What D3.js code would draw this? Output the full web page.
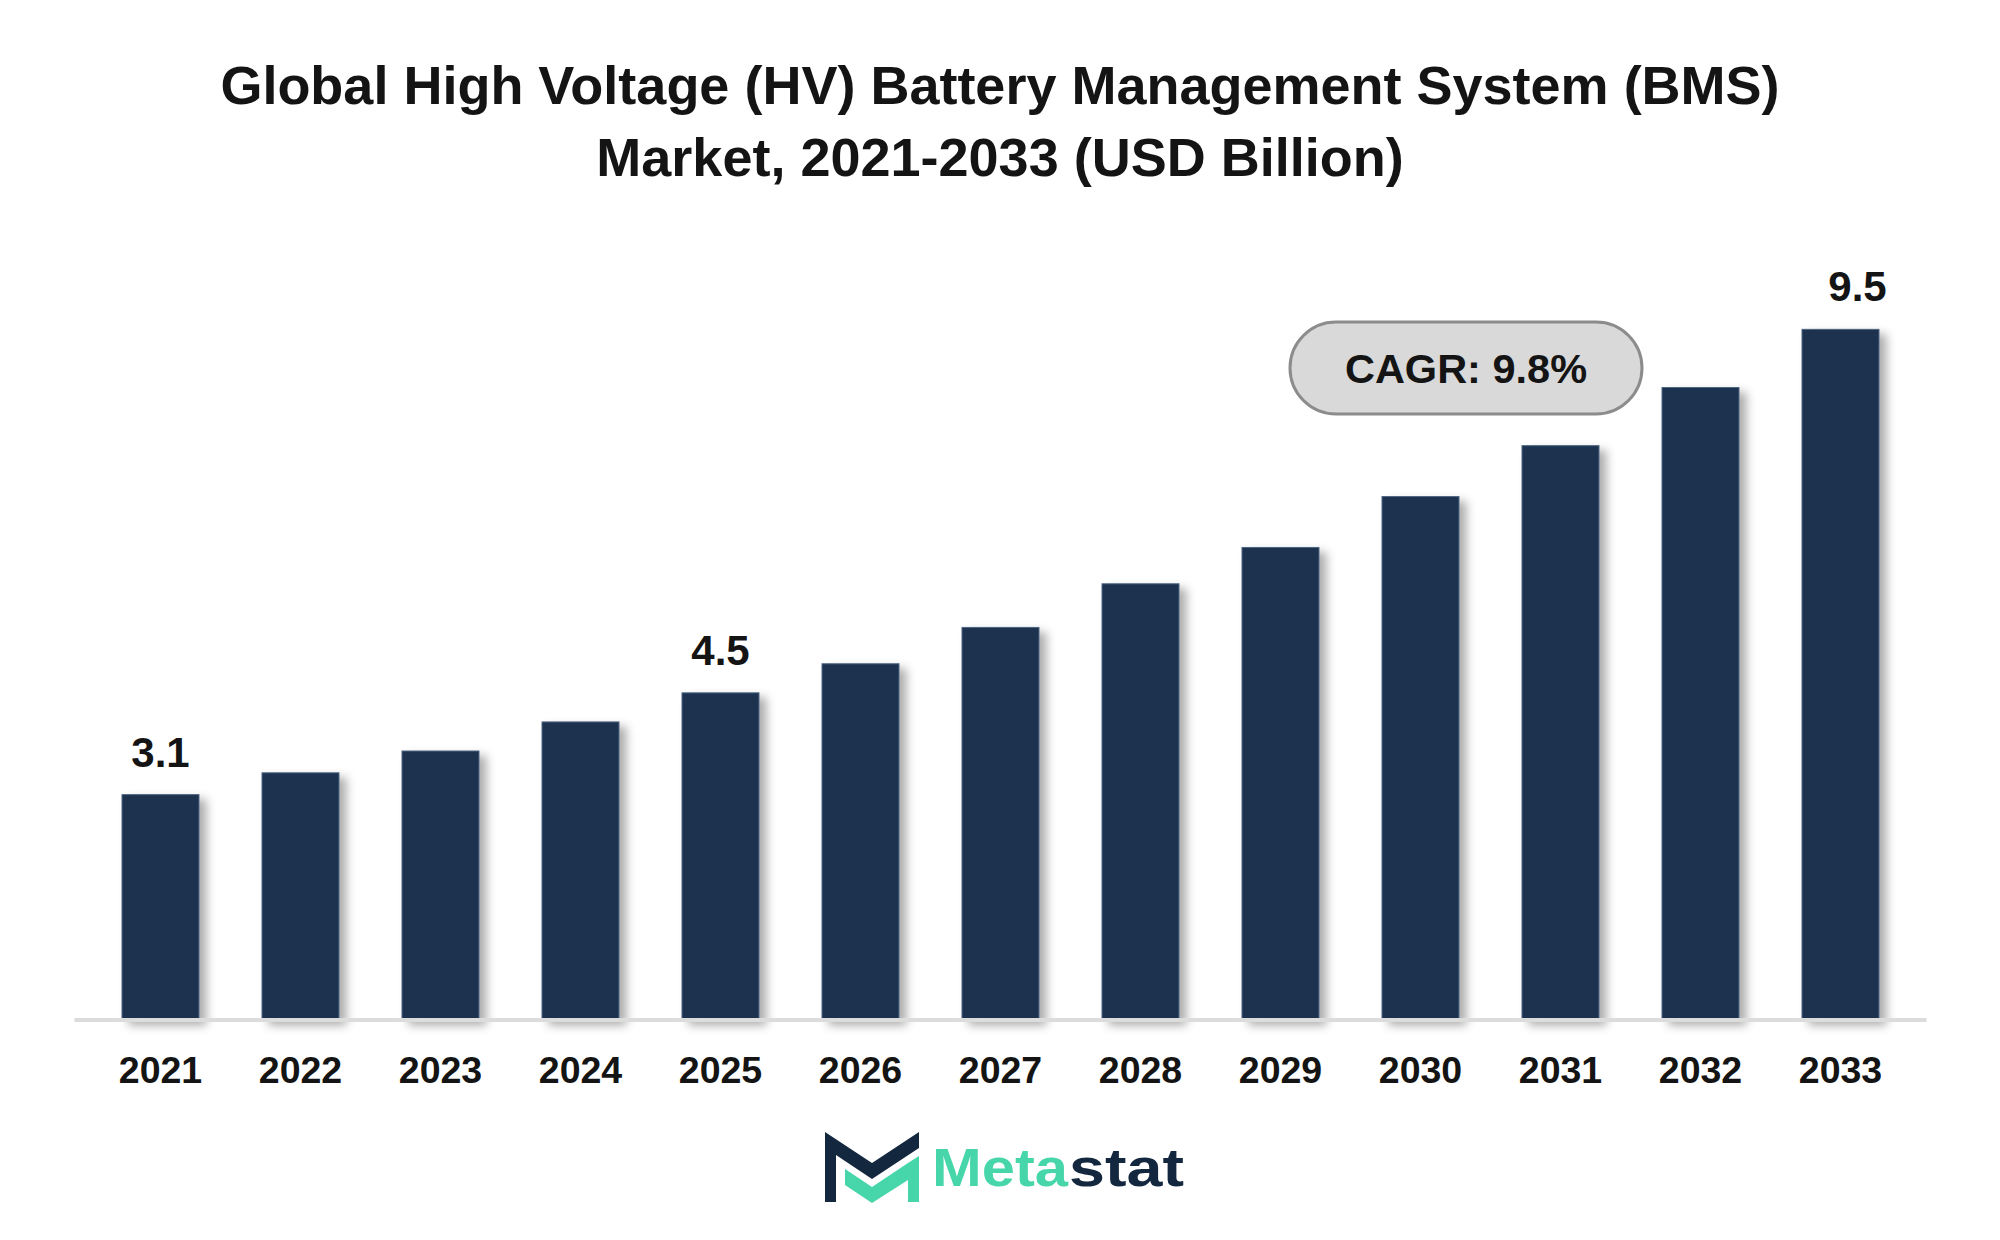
<!DOCTYPE html>
<html>
<head>
<meta charset="utf-8">
<script src="https://cdn.jsdelivr.net/npm/d3@7/dist/d3.min.js"></script>
<style>
  html, body { margin: 0; padding: 0; background: #ffffff; }
  svg { display: block; font-family: "Liberation Sans", Arial, Helvetica, sans-serif; }
</style>
</head>
<body>
<svg id="chart" width="2000" height="1240"></svg>
<script>
// ---- data ----
const titleLines = ["Global High Voltage (HV) Battery Management System (BMS)", "Market, 2021-2033 (USD Billion)"];
const years = ["2021","2022","2023","2024","2025","2026","2027","2028","2029","2030","2031","2032","2033"];
const values = [3.1, 3.4, 3.7, 4.1, 4.5, 4.9, 5.4, 6.0, 6.5, 7.2, 7.9, 8.7, 9.5];
const labeledYears = ["2021", "2025", "2033"];
const labelShift = [0, 0, 17];
const cagrText = "CAGR: 9.8%";
const brandParts = ["Meta", "stat"];

// ---- setup ----
const svg = d3.select("#chart");
const W = 2000, H = 1240;
svg.append("rect").attr("width", W).attr("height", H).attr("fill", "#ffffff");

const defs = svg.append("defs");
const f = defs.append("filter").attr("id", "shadow")
  .attr("x", "-20%").attr("y", "-10%").attr("width", "160%").attr("height", "130%");
f.append("feDropShadow").attr("dx", 7).attr("dy", 5).attr("stdDeviation", 5)
  .attr("flood-color", "#000").attr("flood-opacity", 0.32);

const baseY = 1020;
const x = d3.scaleBand().domain(years).range([90.5, 1910.5]).paddingInner(0.45).paddingOuter(0.225);
const y = d3.scaleLinear().domain([0, 10]).range([baseY, baseY - 727]);

// title
svg.append("g").selectAll("text").data(titleLines).join("text")
  .attr("x", 1000).attr("y", (d, i) => 104 + i * 72)
  .attr("text-anchor", "middle")
  .attr("font-size", 54).attr("font-weight", "bold").attr("fill", "#141414")
  .text(d => d);

// bars
svg.append("g").selectAll("rect").data(years).join("rect")
  .attr("x", d => x(d))
  .attr("y", (d, i) => y(values[i]))
  .attr("width", x.bandwidth())
  .attr("height", (d, i) => baseY - y(values[i]))
  .attr("fill", "#1a3350")
  .attr("stroke", "#4f6581").attr("stroke-width", 1)
  .attr("filter", "url(#shadow)");

// baseline
svg.append("line")
  .attr("x1", x.range()[0] - 16).attr("x2", x.range()[1] + 16)
  .attr("y1", baseY).attr("y2", baseY)
  .attr("stroke", "#dcdcdc").attr("stroke-width", 4);

// x axis labels
const ax = svg.append("g").attr("transform", `translate(0,${baseY})`)
  .call(d3.axisBottom(x).tickSize(0).tickPadding(0));
ax.select(".domain").remove();
ax.selectAll("text")
  .attr("y", 63).attr("dy", 0)
  .attr("font-size", 37.5).attr("font-weight", "bold")
  .attr("font-family", "'Liberation Sans', Arial, Helvetica, sans-serif")
  .attr("fill", "#141414");

// value labels
svg.append("g").selectAll("text").data(labeledYears).join("text")
  .attr("x", (d, i) => x(d) + x.bandwidth() / 2 + labelShift[i])
  .attr("y", d => y(values[years.indexOf(d)]) - 28)
  .attr("text-anchor", "middle")
  .attr("font-size", 42).attr("font-weight", "bold").attr("fill", "#141414")
  .text(d => values[years.indexOf(d)].toFixed(1));

// CAGR pill
const pill = svg.append("g");
pill.append("rect")
  .attr("x", 1290).attr("y", 322).attr("width", 352).attr("height", 92)
  .attr("rx", 46).attr("ry", 46)
  .attr("fill", "#d9d9d9").attr("stroke", "#8c8c8c").attr("stroke-width", 3);
pill.append("text")
  .attr("x", 1466).attr("y", 383)
  .attr("text-anchor", "middle")
  .attr("font-size", 41.5).attr("font-weight", "bold").attr("fill", "#141414")
  .text(cagrText);

// logo
const logo = svg.append("g");
logo.append("path")
  .attr("d", "M825,1132 L872,1163 L919,1132 L919,1148 L872,1179 L836,1155 L836,1202 L825,1202 Z")
  .attr("fill", "#13273f");
logo.append("path")
  .attr("d", "M845,1169 L872,1187 L908,1163 L919,1156 L919,1202 L908,1202 L908,1180 L872,1203 L845,1185 Z")
  .attr("fill", "#47d6a9");
logo.append("text")
  .attr("x", 932).attr("y", 1186)
  .attr("font-size", 54).attr("font-weight", "bold").attr("fill", "#47d6a9")
  .attr("textLength", 136).attr("lengthAdjust", "spacingAndGlyphs")
  .text(brandParts[0]);
logo.append("text")
  .attr("x", 1069).attr("y", 1186)
  .attr("font-size", 54).attr("font-weight", "bold").attr("fill", "#13273f")
  .attr("textLength", 115).attr("lengthAdjust", "spacingAndGlyphs")
  .text(brandParts[1]);
</script>
</body>
</html>
